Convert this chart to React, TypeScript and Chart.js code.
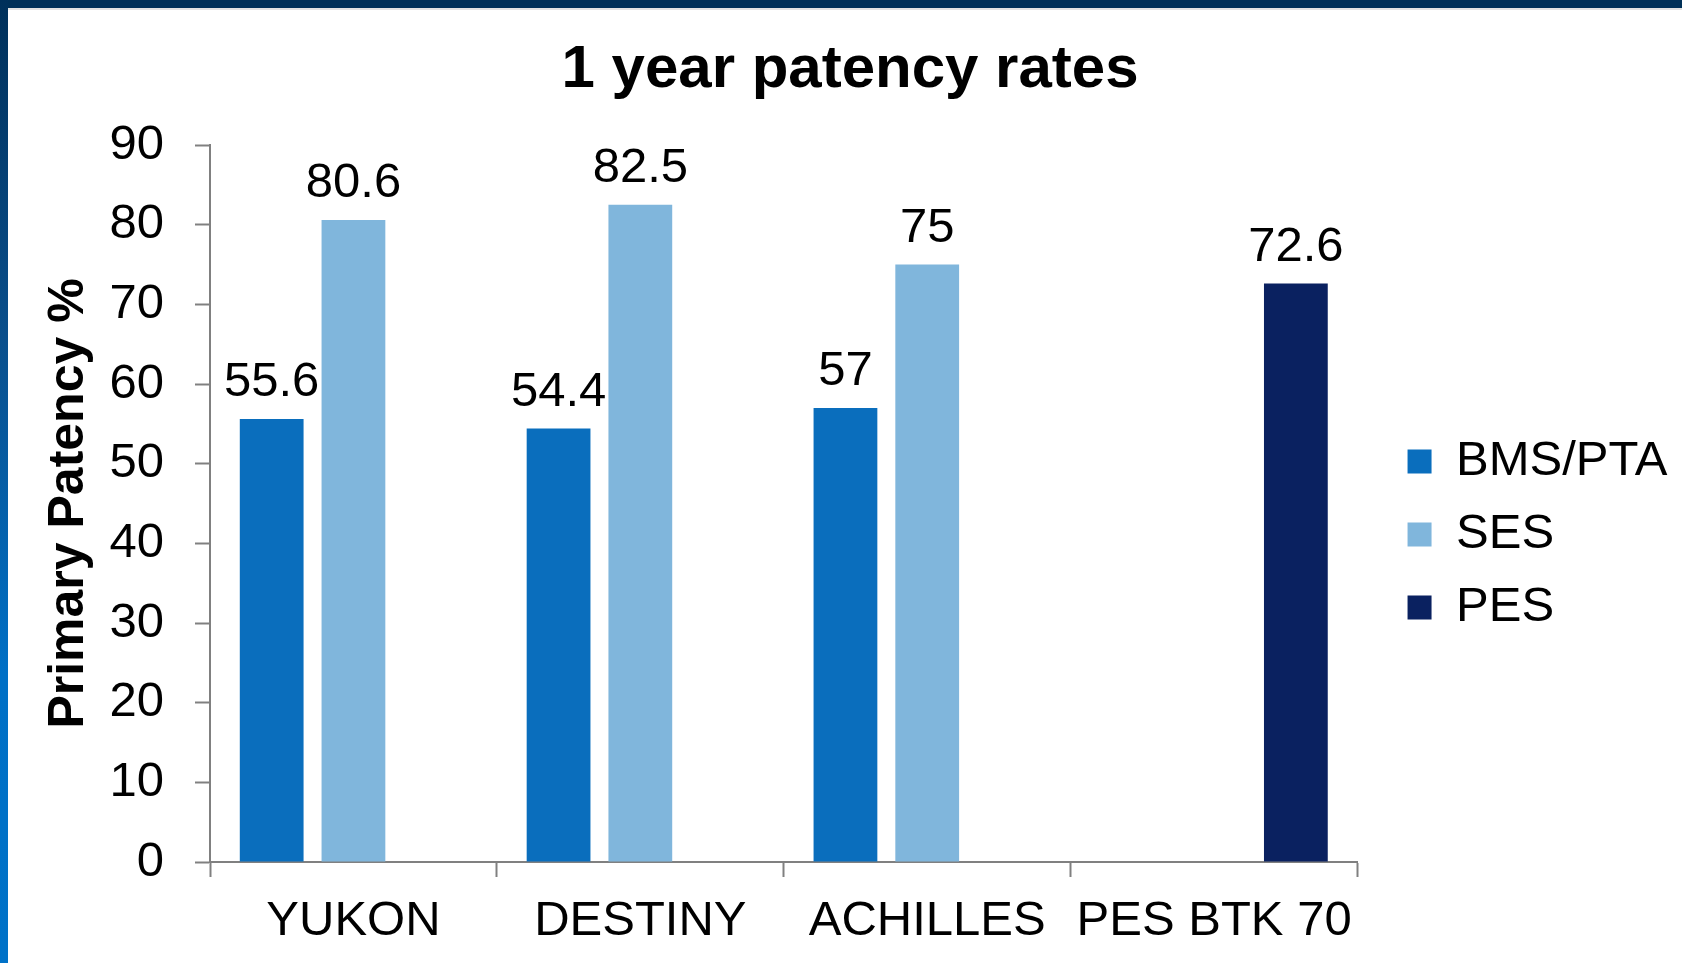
import React, { useEffect, useRef } from "react";
import { Chart, registerables } from "chart.js";

Chart.register(...registerables);

const categories = ["YUKON", "DESTINY", "ACHILLES", "PES BTK 70"];
const bmsValues: (number | null)[] = [55.6, 54.4, 57, null];
const sesValues: (number | null)[] = [80.6, 82.5, 75, null];
const pesValues: (number | null)[] = [null, null, null, 72.6];
const yTicks = [0, 10, 20, 30, 40, 50, 60, 70, 80, 90];

const FONT = '"Liberation Sans", Arial, Helvetica, sans-serif';

const valueLabels = {
  id: "valueLabels",
  afterDatasetsDraw(chart: any) {
    const ctx = chart.ctx;
    ctx.save();
    ctx.font = `49px ${FONT}`;
    ctx.fillStyle = "#000";
    ctx.textAlign = "center";
    ctx.textBaseline = "alphabetic";
    chart.data.datasets.forEach((ds: any, i: number) => {
      const meta = chart.getDatasetMeta(i);
      meta.data.forEach((el: any, j: number) => {
        const v = ds.data[j];
        if (v === null || v === undefined) return;
        ctx.fillText(String(v), el.x, el.y - 23);
      });
    });
    ctx.restore();
  },
};

// shift legend block (gap from plot, vertical placement) and title centre
const placeBlocks = {
  id: "placeBlocks",
  beforeDraw(chart: any) {
    const lg = chart.legend;
    if (lg) {
      const w = lg.width;
      lg.left = chart.chartArea.right + 26;
      lg.right = lg.left + w;
      lg.top = 106;
    }
    const tb = chart.titleBlock;
    if (tb) {
      const w = tb.right - tb.left;
      tb.left = 850 - w / 2;
      tb.right = 850 + w / 2;
    }
  },
};

export default function App() {
  const ref = useRef<HTMLCanvasElement | null>(null);

  useEffect(() => {
    document.body.style.margin = "0";
    if (!ref.current) return;
    Chart.defaults.font.family = FONT;
    Chart.defaults.color = "#000";
    const chart = new Chart(ref.current, {
      type: "bar",
      data: {
        labels: categories,
        datasets: [
          { label: "BMS/PTA", data: bmsValues, backgroundColor: "#0a6ebd" },
          { label: "SES", data: sesValues, backgroundColor: "#80b6dc" },
          { label: "PES", data: pesValues, backgroundColor: "#0a2160" },
        ],
      },
      options: {
        responsive: false,
        animation: false,
        devicePixelRatio: 1,
        categoryPercentage: 0.855,
        barPercentage: 0.78,
        layout: { padding: { top: 10, left: 10, right: 30.5, bottom: 0 } },
        plugins: {
          tooltip: { enabled: false },
          title: {
            display: true,
            text: "1 year patency rates",
            font: { size: 60, weight: "bold", family: FONT },
            color: "#000",
            padding: { top: 24, bottom: 39 },
          },
          legend: {
            display: true,
            position: "right",
            align: "center",
            labels: {
              boxWidth: 24,
              boxHeight: 24,
              padding: 24,
              font: { size: 49, family: FONT },
              color: "#000",
            },
          },
        },
        scales: {
          x: {
            afterFit: (scale: any) => {
              scale.height = 101;
            },
            grid: {
              display: true,
              offset: true,
              drawOnChartArea: false,
              drawTicks: true,
              tickLength: 15,
              tickWidth: 2,
              color: "#808080",
            },
            border: { display: true, color: "#808080", width: 2 },
            ticks: { font: { size: 49, family: FONT }, color: "#000", padding: 15, maxRotation: 0, autoSkip: false },
          },
          y: {
            min: 0,
            max: 90,
            afterBuildTicks: (scale: any) => {
              scale.ticks = yTicks.map((v) => ({ value: v }));
            },
            afterFit: (scale: any) => {
              scale.width = 200;
            },
            grid: {
              display: true,
              drawOnChartArea: false,
              drawTicks: true,
              tickLength: 15,
              tickWidth: 2,
              color: "#808080",
            },
            border: { display: true, color: "#808080", width: 2 },
            ticks: { font: { size: 49, family: FONT }, color: "#000", padding: 31 },
            title: {
              display: true,
              text: "Primary Patency %",
              font: { size: 50, weight: "bold", family: FONT },
              color: "#000",
              padding: { top: 29, bottom: 10 },
            },
          },
        },
      },
      plugins: [valueLabels, placeBlocks],
    } as any);
    return () => chart.destroy();
  }, []);

  return (
    <div style={{ position: "fixed", left: 0, top: 0, width: 1682, height: 963, background: "#fff", overflow: "hidden" }}>
      <canvas ref={ref} width={1682} height={963} style={{ position: "absolute", left: 0, top: 0, width: 1682, height: 963 }} />
      <div style={{ position: "absolute", left: 0, top: 0, width: 1682, height: 8, background: "#003058" }} />
      <div style={{ position: "absolute", left: 0, top: 8, width: 1682, height: 2, background: "#e2e2e2" }} />
      <div
        style={{
          position: "absolute",
          left: 0,
          top: 0,
          width: 8,
          height: 963,
          background: "linear-gradient(to bottom, #00305a 0%, #0a4f8c 35%, #0070c6 70%, #0072c8 100%)",
        }}
      />
    </div>
  );
}
